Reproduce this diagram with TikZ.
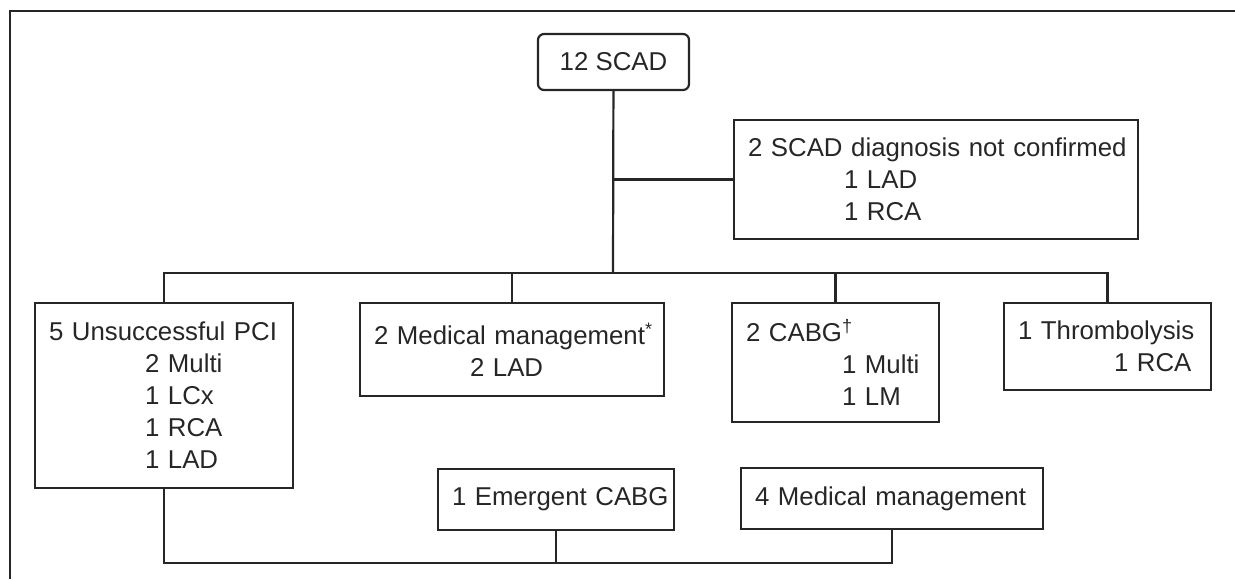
\documentclass[tikz,border=0pt]{standalone}
\usepackage{fontspec}
\setmainfont{Liberation Sans}
\newcommand{\ind}{\hspace*{48pt}}
\hyphenpenalty=10000

\begin{document}
\begin{tikzpicture}[x=0.5pt, y=-0.5pt, line width=1.1pt, color=black!85,
  box/.style={draw, inner xsep=7pt, inner ysep=0pt, align=left,
    font=\fontsize{12.9}{16}\selectfont}]
\useasboundingbox (0,0) rectangle (1235,579);
% frame, cut by the page
\draw[line width=1.4pt] (1235,11) -- (10,11) -- (10,579);
% top
\node[box, align=center, rounded corners=3pt, minimum width=75.5pt, minimum height=28pt] (scad) at (613.5,62) {12~SCAD};
\node[box, text width=188pt, minimum height=59.5pt] (diag) at (936,179.5) {2~SCAD~diagnosis~not~confirmed\\\ind 1~LAD\\\ind 1~RCA};
% middle row
\node[box, text width=115pt, minimum height=92.5pt] (pci) at (164,395.5) {5~Unsuccessful~PCI\\\ind 2~Multi\\\ind 1~LCx\\\ind 1~RCA\\\ind 1~LAD};
\node[box, text width=138pt, minimum height=46.5pt] (med) at (512,349.5) {2~Medical~management\textsuperscript{*}\\\ind 2~LAD};
\node[box, text width=89.5pt, minimum height=59.5pt] (cabg) at (835.5,362.5) {2~CABG\textsuperscript{†}\\\ind 1~Multi\\\ind 1~LM};
\node[box, text width=89.5pt, minimum height=43.5pt] (thromb) at (1107.5,346.5) {1~Thrombolysis\\\ind 1~RCA};
% bottom row
\node[box, text width=104pt, minimum height=30.5pt] (emerg) at (556,499.5) {1~Emergent~CABG};
\node[box, text width=137pt, minimum height=30.5pt] (medmgmt) at (892,498.5) {4~Medical~management};
% lines
\coordinate (fork) at (613,273);
\coordinate (join) at (613,563);
\draw (scad) -- (fork);
\draw (diag.west) -- (diag.west -| scad);
\draw (pci) -- (pci |- fork) -- (thromb |- fork) -- (thromb);
\draw (med) -- (med |- fork);
\draw (cabg) -- (cabg |- fork);
\draw (pci) -- (pci |- join) -- (medmgmt |- join) -- (medmgmt);
\draw (emerg) -- (emerg |- join);
\end{tikzpicture}
\end{document}
